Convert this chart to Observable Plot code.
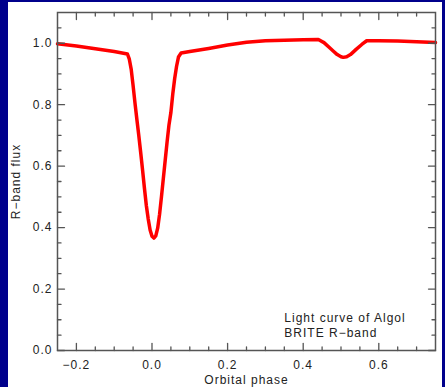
<!DOCTYPE html>
<html><head><meta charset="utf-8">
<script src="https://cdn.jsdelivr.net/npm/d3@7"></script>
<script src="https://cdn.jsdelivr.net/npm/@observablehq/plot@0.6"></script>
<style>
html,body{margin:0;padding:0;background:#00008c;overflow:hidden;}
#wrap{position:absolute;left:8px;top:2px;width:434px;height:385px;background:#fff;}
</style></head><body><div id="wrap"></div>
<script>
const phase = [-0.25,-0.2,-0.15,-0.1,-0.065,-0.06,-0.055,-0.05,-0.045,-0.04,-0.035,-0.03,-0.025,-0.02,-0.015,-0.01,-0.005,0,0.005,0.01,0.015,0.02,0.025,0.03,0.035,0.04,0.045,0.05,0.055,0.06,0.065,0.07,0.077,0.1,0.15,0.2,0.25,0.3,0.35,0.4,0.44,0.455,0.47,0.48,0.49,0.5,0.506,0.515,0.525,0.54,0.555,0.568,0.6,0.65,0.7,0.75];
const flux = [0.998,0.991,0.982,0.973,0.965,0.948,0.915,0.862,0.805,0.752,0.700,0.645,0.588,0.528,0.472,0.428,0.392,0.372,0.366,0.373,0.398,0.443,0.500,0.560,0.620,0.680,0.735,0.775,0.835,0.885,0.925,0.955,0.968,0.973,0.983,0.994,1.003,1.008,1.010,1.011,1.012,1.002,0.985,0.974,0.963,0.956,0.954,0.956,0.963,0.980,0.996,1.008,1.008,1.007,1.005,1.002];

const xMajor = [-0.2,0,0.2,0.4,0.6];
const xMinor = [-0.15,-0.1,-0.05,0.05,0.1,0.15,0.25,0.3,0.35,0.45,0.5,0.55,0.65,0.7];
const yMajor = [0,0.2,0.4,0.6,0.8,1.0];
const yMinor = [0.05,0.1,0.15,0.25,0.3,0.35,0.45,0.5,0.55,0.65,0.7,0.75,0.85,0.9,0.95,1.05];

const noteX = [0.35];
const noteY = [0.125];
const noteText = ["Light curve of Algol\nBRITE R\u2212band"];

const tickShape = {draw(ctx, l) { ctx.moveTo(0, 0); ctx.lineTo(0, -l); }};
const axisColor = "#555";
const tk = (data, ch, anchor, rotate, len) =>
  Plot.vector(data, {[ch]: d => d, frameAnchor: anchor, rotate, length: len, anchor: "start", shape: tickShape, stroke: axisColor, strokeWidth: 1.3});

const chart = Plot.plot({
  width: 434, height: 385,
  marginLeft: 49, marginRight: 7, marginTop: 10, marginBottom: 37,
  style: {fontSize: "12px", fontFamily: "'Liberation Sans', Arial, sans-serif", letterSpacing: "1px", color: "#222", background: "#fff"},
  x: {domain: [-0.25, 0.75]},
  y: {domain: [0, 1.1]},
  marks: [
    Plot.line(phase, {x: phase, y: flux, stroke: "#ff0000", strokeWidth: 3.5, strokeLinejoin: "round"}),
    tk(xMajor, "x", "bottom", 0, 7), tk(xMinor, "x", "bottom", 0, 3.5),
    tk(xMajor, "x", "top", 180, 7), tk(xMinor, "x", "top", 180, 3.5),
    tk(yMajor, "y", "left", 90, 7), tk(yMinor, "y", "left", 90, 3.5),
    tk(yMajor, "y", "right", -90, 7), tk(yMinor, "y", "right", -90, 3.5),
    Plot.frame({stroke: axisColor, strokeWidth: 1.5}),
    Plot.axisX(xMajor, {tickSize: 0, tickPadding: 10, tickFormat: ".1f", label: "Orbital phase", labelArrow: "none", labelAnchor: "center", labelOffset: 33}),
    Plot.axisY(yMajor, {tickSize: 0, tickPadding: 5, tickFormat: ".1f", label: "R\u2212band flux", labelArrow: "none", labelAnchor: "center"}),
    Plot.text(noteText, {x: noteX, y: noteY, text: d => d, textAnchor: "start", lineAnchor: "top", lineHeight: 1.2})
  ]
});
document.getElementById("wrap").appendChild(chart);
</script></body></html>
